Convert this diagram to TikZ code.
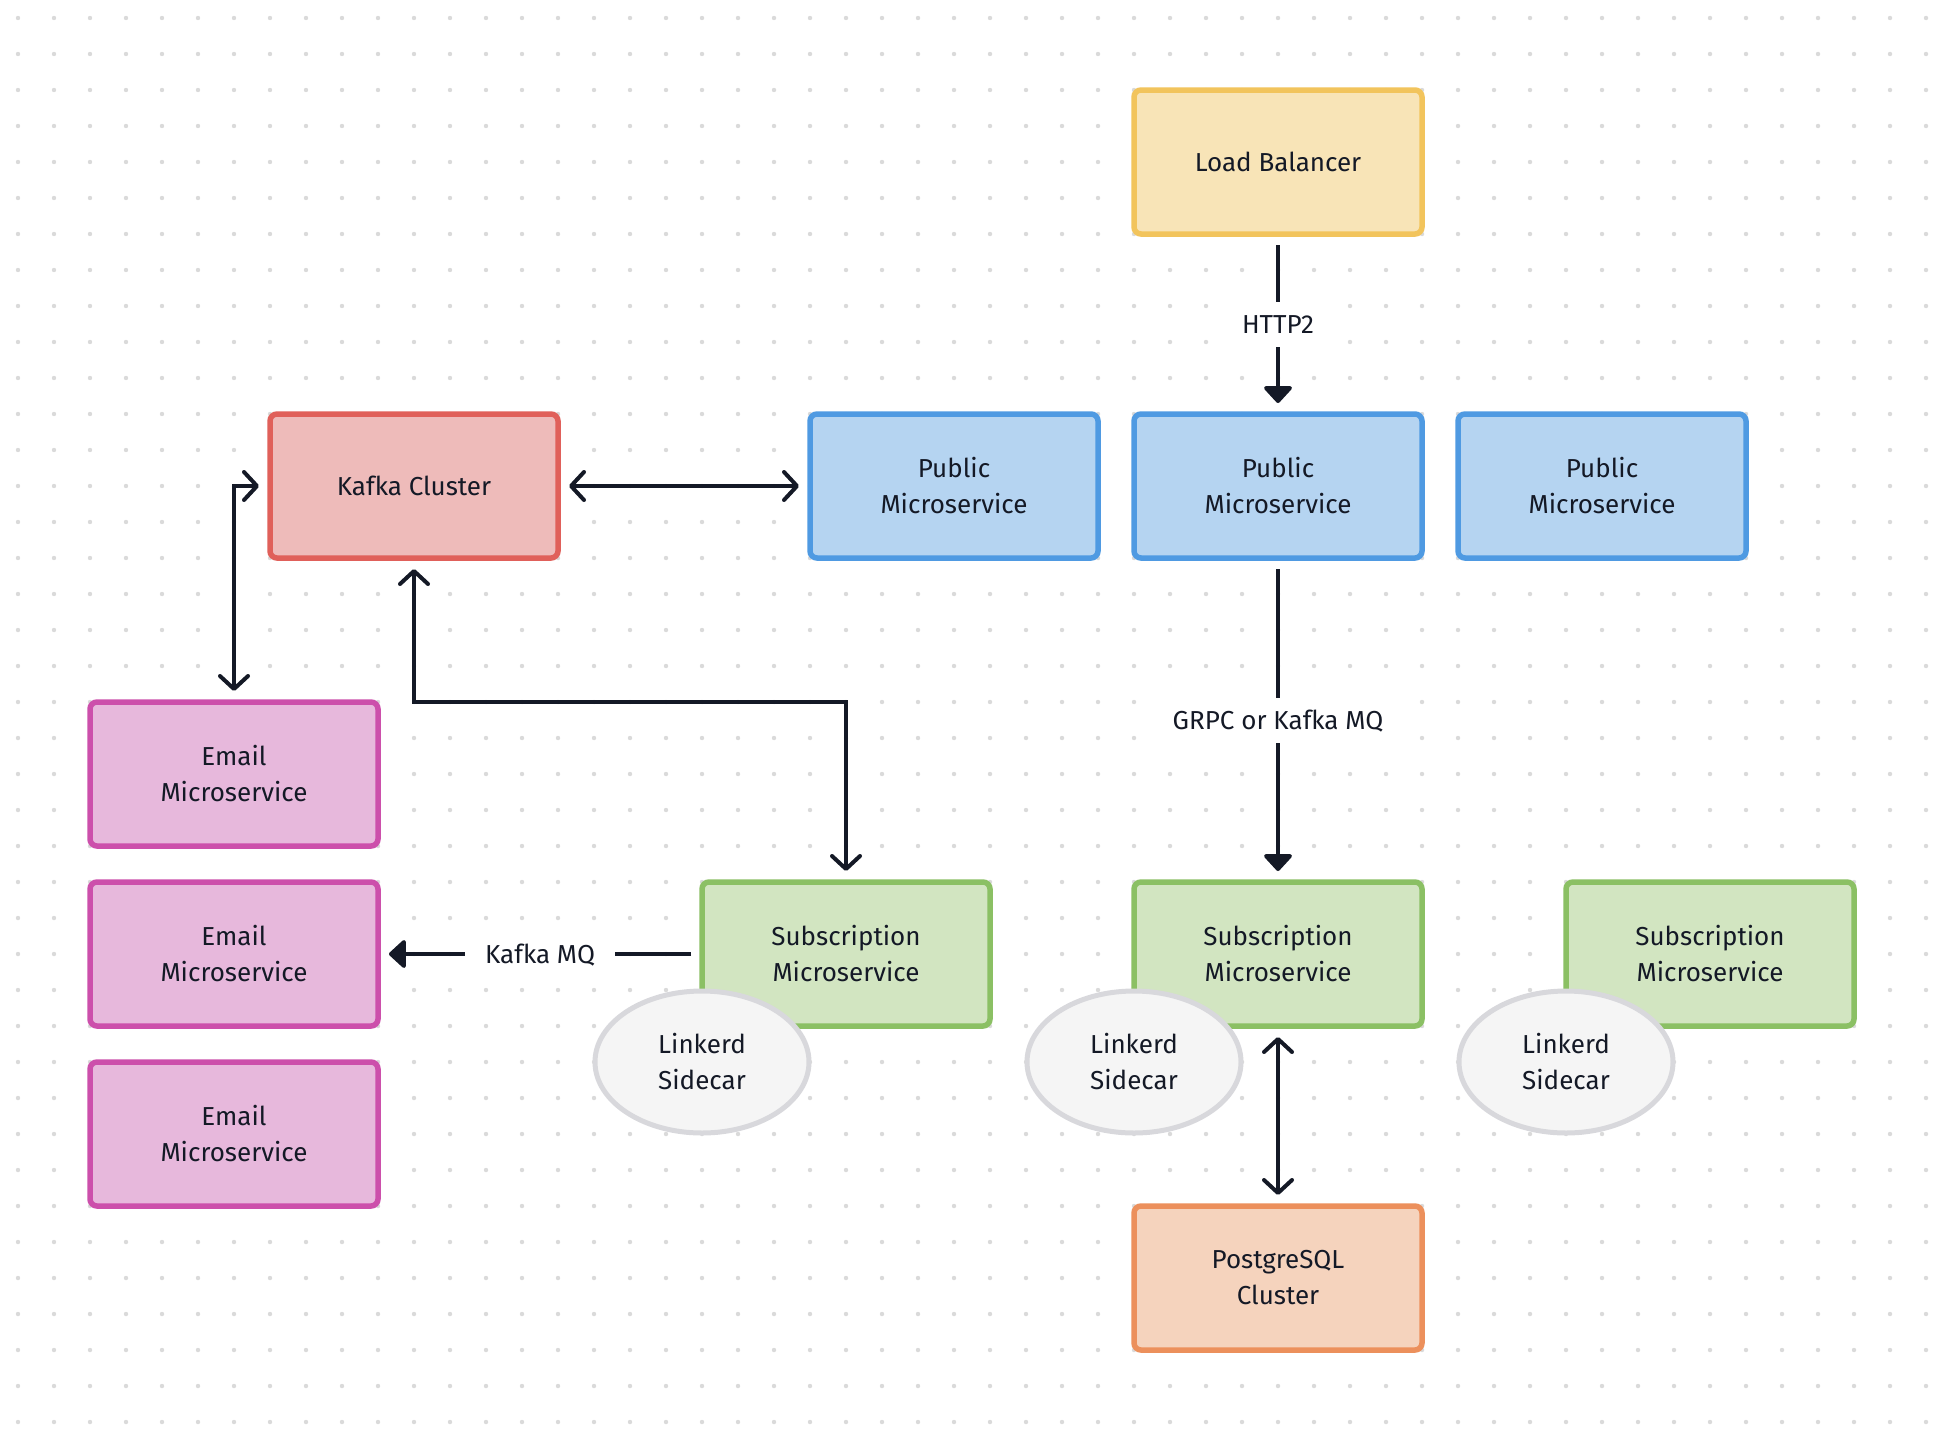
\documentclass[tikz,border=0pt]{standalone}
\usepackage{fontspec}
\setmainfont{Fira Sans}
\usetikzlibrary{arrows.meta,shapes.geometric}
\definecolor{ink}{HTML}{141926}
\definecolor{dotc}{HTML}{DADADA}
\definecolor{lbf}{HTML}{F8E4B7}\definecolor{lbd}{HTML}{F2C45C}
\definecolor{kaf}{HTML}{EEBBBA}\definecolor{kad}{HTML}{E0605A}
\definecolor{puf}{HTML}{B5D4F1}\definecolor{pud}{HTML}{4F9AE2}
\definecolor{emf}{HTML}{E7B8DC}\definecolor{emd}{HTML}{CC4FAB}
\definecolor{suf}{HTML}{D2E5C1}\definecolor{sud}{HTML}{8BC064}
\definecolor{pgf}{HTML}{F5D3BD}\definecolor{pgd}{HTML}{EC905C}
\definecolor{scf}{HTML}{F5F5F5}\definecolor{scd}{HTML}{D8D8DC}
\tikzset{
  oarr/.tip={Straight Barb[length=13pt,width=28pt,round]},
  farr/.tip={Triangle[length=18pt,width=32pt,round]},
  box/.style={rectangle, rounded corners=7pt, line width=5.5pt,
    minimum width=288pt, minimum height=144pt, align=center,
    font=\fontsize{26}{36}\selectfont, text=ink, outer sep=0pt, inner sep=0pt},
  lbbox/.style={box, draw=lbd, fill=lbf},
  kabox/.style={box, draw=kad, fill=kaf},
  pubox/.style={box, draw=pud, fill=puf},
  embox/.style={box, draw=emd, fill=emf},
  subox/.style={box, draw=sud, fill=suf},
  pgbox/.style={box, draw=pgd, fill=pgf},
  sidecar/.style={ellipse, draw=scd, fill=scf, line width=5pt,
    minimum width=214pt, minimum height=142pt, inner sep=0pt, outer sep=0pt,
    align=center, font=\fontsize{26}{36}\selectfont, text=ink},
  conn/.style={line width=4pt, draw=ink, shorten >=11pt, shorten <=11pt},
  lbl/.style={fill=white, font=\fontsize{26}{36}\selectfont, text=ink,
    inner xsep=20pt, inner ysep=13pt, text height=19pt, text depth=0pt}
}
\begin{document}
\begin{tikzpicture}[x=1pt,y=-1pt]
\useasboundingbox (0,0) rectangle (1944,1440);
\fill[white] (0,0) rectangle (1944,1440);
\foreach \i in {0,...,53}{\foreach \j in {0,...,39}{\fill[dotc] ({18+36*\i},{18+36*\j}) circle[radius=2.2pt];}}

% boxes
\node[lbbox] (lb) at (1278,162) {Load Balancer};
\node[kabox] (kafka) at (414,486) {Kafka Cluster};
\node[pubox] (pub1) at (954,486) {Public\\Microservice};
\node[pubox] (pub2) at (1278,486) {Public\\Microservice};
\node[pubox] (pub3) at (1602,486) {Public\\Microservice};
\node[embox] (email1) at (234,774) {Email\\Microservice};
\node[embox] (email2) at (234,954) {Email\\Microservice};
\node[embox] (email3) at (234,1134) {Email\\Microservice};
\node[subox] (sub1) at (846,954) {Subscription\\Microservice};
\node[subox] (sub2) at (1278,954) {Subscription\\Microservice};
\node[subox] (sub3) at (1710,954) {Subscription\\Microservice};
\node[pgbox] (pg) at (1278,1278) {PostgreSQL\\Cluster};

% sidecars
\node[sidecar] (sc1) at (702,1062) {Linkerd\\Sidecar};
\node[sidecar] (sc2) at (1134,1062) {Linkerd\\Sidecar};
\node[sidecar] (sc3) at (1566,1062) {Linkerd\\Sidecar};

% connectors
\coordinate (kbend) at (846,702);
\draw[conn, -farr] (lb) -- node[lbl]{HTTP2} (pub2);
\draw[conn, oarr-oarr] (kafka) -- (pub1);
\draw[conn, oarr-oarr] (email1.north) |- (kafka.west);
\draw[conn, oarr-oarr] (kafka.south) |- (kbend) -- (sub1.north);
\draw[conn, -farr] (pub2) -- node[lbl]{GRPC or Kafka MQ} (sub2);
\draw[conn, -farr] (sub1) -- node[lbl]{Kafka MQ} (email2);
\draw[conn, oarr-oarr] (sub2) -- (pg);
\end{tikzpicture}
\end{document}
